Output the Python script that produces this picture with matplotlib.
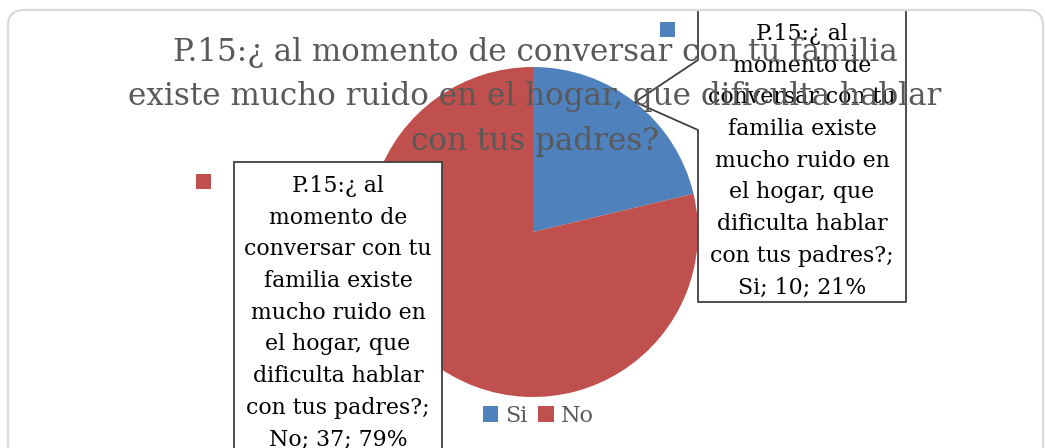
import matplotlib.pyplot as plt
from matplotlib.patches import FancyBboxPatch, Polygon, Rectangle
from matplotlib.lines import Line2D

# data
categorias = ["Si", "No"]
valores = [10, 37]
porcentajes = ["21%", "79%"]
colores = ["#4F81BD", "#C0504D"]
titulo = "P.15:¿ al momento de conversar con tu familia\nexiste mucho ruido en el hogar, que dificulta hablar\ncon tus padres?"
pregunta = "P.15:¿ al\nmomento de\nconversar con tu\nfamilia existe\nmucho ruido en\nel hogar, que\ndificulta hablar\ncon tus padres?;"

W, H = 1045, 448
SERIF = "DejaVu Serif"

fig = plt.figure(figsize=(W / 100, H / 100), dpi=100)
ax = fig.add_axes([0, 0, 1, 1])


def py(y):
    # pixel row (top-down) to data y
    return H - y


# chart area border
borde = FancyBboxPatch((8, py(470)), 1035, 460, boxstyle="round,pad=0,rounding_size=16",
                       fc="white", ec="#d9d9d9", lw=1.6, zorder=0)
ax.add_patch(borde)

cx, cy, r = 533, py(232), 165
wedges, _ = ax.pie(valores, colors=colores, startangle=90, counterclock=False,
                   center=(cx, cy), radius=r, frame=True,
                   wedgeprops=dict(linewidth=0, zorder=1))

# right callout (Si)
caja_si = [(698, py(12)), (698, py(60)), (635, py(102)), (698, py(130)),
           (698, py(302)), (906, py(302)), (906, py(12))]
ax.add_patch(Polygon(caja_si, closed=True, fc="white", ec="none", zorder=2))
ax.add_line(Line2D([p[0] for p in caja_si], [p[1] for p in caja_si],
                   color="#404040", lw=1.3, zorder=2.5))
ax.add_patch(Rectangle((660, py(37)), 15, 15, fc=colores[0], ec="none", zorder=3))
ax.text(802, py(23), pregunta + "\n%s; %d; %s" % (categorias[0], valores[0], porcentajes[0]),
        ha="center", va="top", fontsize=15.8, family=SERIF, color="black",
        linespacing=1.57, zorder=3)

# left callout (No)
ax.add_patch(Rectangle((234, py(470)), 208, 308, fc="white", ec="#404040", lw=1.3, zorder=2))
ax.add_patch(Rectangle((196, py(189)), 15, 15, fc=colores[1], ec="none", zorder=3))
ax.text(338, py(175), pregunta + "\n%s; %d; %s" % (categorias[1], valores[1], porcentajes[1]),
        ha="center", va="top", fontsize=15.8, family=SERIF, color="black",
        linespacing=1.57, zorder=3)

# title
ax.text(535, py(37), titulo, ha="center", va="top", fontsize=22.3, family=SERIF,
        color="#595959", linespacing=1.56, zorder=4)

leg = ax.legend(wedges, categorias, loc="center", bbox_to_anchor=(538 / W, 1 - 416 / H),
                ncol=2, frameon=False, handlelength=0.7, handleheight=0.7,
                handletextpad=0.3, columnspacing=0.5,
                prop={"family": SERIF, "size": 16})
for t in leg.get_texts():
    t.set_color("#595959")

ax.set_xlim(0, W)
ax.set_ylim(0, H)
ax.set_axis_off()

fig.savefig("out.png", dpi=100)
